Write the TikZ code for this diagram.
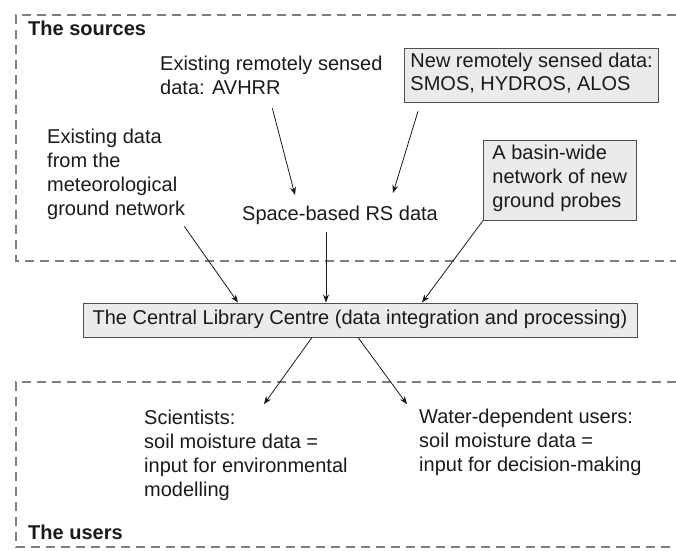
\documentclass[tikz,border=0pt]{standalone}
\usepackage{fontspec}
\setmainfont{Liberation Sans}
\usetikzlibrary{arrows.meta,calc}
\definecolor{framegray}{HTML}{7F7F7F}
\definecolor{boxfill}{HTML}{EBEBEB}
\definecolor{boxline}{HTML}{505050}
\definecolor{ink}{HTML}{1A1A1A}
\begin{document}
\begin{tikzpicture}[x=1pt,y=-1pt,
  txt/.style={font=\fontsize{20}{24}\selectfont, text=ink, align=left,
    inner sep=0pt, anchor=north west,
    execute at begin node=\strut, execute at end node=\strut},
  grouptitle/.style={font=\fontsize{20}{24}\selectfont\bfseries, text=ink,
    inner sep=0pt, anchor=base west},
  graybox/.style={txt, draw=boxline, fill=boxfill, line width=0.9pt,
    inner xsep=8pt, inner ysep=5pt},
  frame/.style={draw=framegray, line width=2.6pt, dash pattern=on 9pt off 6pt},
  arr/.style={draw=ink, line width=0.8pt, -{Stealth[length=8pt,width=6pt]}}]
\useasboundingbox (0,0) rectangle (676,550);

% dashed group frames, open on the right
\draw[frame] (676,15) -- (16,15) -- (16,261) -- (676,261);
\draw[frame] (676,382) -- (16,382) -- (16,547) -- (676,547);

% group titles
\node[grouptitle] (srctitle) at (28,35) {The sources};
\node[grouptitle] (usrtitle) at (28,539) {The users};

% sources
\node[txt] (avhrr) at (160,56.2) {Existing remotely sensed\\data: AVHRR};
\node[graybox, inner xsep=6pt, font=\fontsize{20}{23}\selectfont] (newrs) at (404,48)
  {New remotely sensed data:\\SMOS, HYDROS, ALOS};
\node[txt] (ground) at (47,129.2) {Existing data\\from the\\meteorological\\ground network};
\node[txt, anchor=base] (space) at (340,220) {Space-based RS data};
\node[graybox, inner xsep=9pt] (basin) at (483,140) {A basin-wide\\network of new\\ground probes};

% central node
\node[graybox, anchor=center, align=center, inner xsep=0pt,
  minimum width=554pt, minimum height=34pt] (central) at (360,320)
  {The Central Library Centre (data integration and processing)};

% users
\node[txt] (sci) at (144,410.2) {Scientists:\\soil moisture data =\\input for environmental\\modelling};
\node[txt] (water) at (419,409.2) {Water-dependent users:\\soil moisture data =\\input for decision-making};

% connectors
\draw[arr] ($(avhrr.south)+(1,6)$) -- ($(space.north)+(-45,-8)$);
\draw[arr] ($(newrs.south west)+(14,8)$) -- ($(space.north)+(53,-10)$);
\draw[arr] ($(ground.south east)+(-1,3)$) -- ($(central.north)+(-122,0)$);
\draw[arr] ($(space.south)+(-14,5)$) -- ($(central.north)+(-34,0)$);
\draw[arr] (basin.south west) -- ($(central.north)+(62,0)$);
\draw[arr] ($(central.south)+(-48,0)$) -- ($(sci.north)+(18,-6)$);
\draw[arr] ($(central.south)+(-2,0)$) -- ($(water.north west)+(-12,-5)$);
\end{tikzpicture}
\end{document}
